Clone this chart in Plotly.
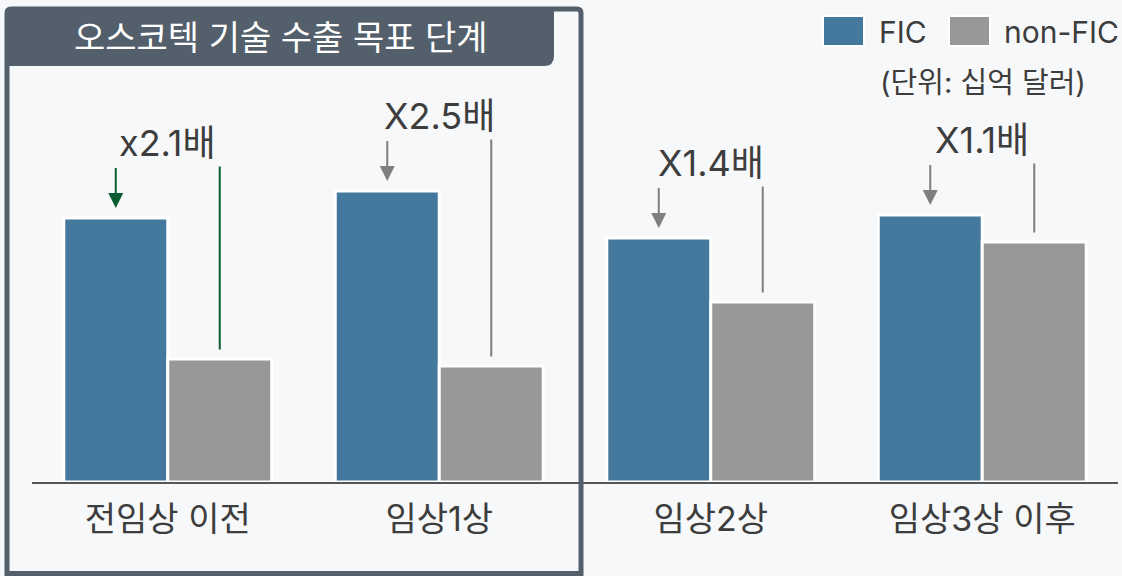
import plotly.graph_objects as go

# Deal values (billion USD) by development stage
stages = ["전임상 이전", "임상1상", "임상2상", "임상3상 이후"]
fic_values = [2.64, 2.91, 2.44, 2.67]
non_fic_values = [1.23, 1.16, 1.80, 2.40]
ratio_labels = ["x2.1배", "X2.5배", "X1.4배", "X1.1배"]
marker_colors = ["#0b5c30", "#7f7f7f", "#7f7f7f", "#7f7f7f"]

FIC_COLOR = "#45789d"
NON_COLOR = "#989898"
BG = "#f7f8fa"
TEXT = "#3d3d3d"
FRAME = "#535f6b"
FONT = "Inter, Noto Sans CJK KR"

W, H = 1122, 576
ML, MR, MT, MB = 32, 4, 82, 94
BARGAP = 0.234
OFF = (1 - BARGAP) / 4  # centre offset of each bar within its group


def px_x(p):
    return (p - ML) / (W - ML - MR)


def px_y(p):
    return (H - MB - p) / (H - MT - MB)


fig = go.Figure()
fig.add_trace(go.Bar(name="FIC", x=stages, y=fic_values,
                     marker=dict(color=FIC_COLOR, line=dict(color="white", width=3))))
fig.add_trace(go.Bar(name="non-FIC", x=stages, y=non_fic_values,
                     marker=dict(color=NON_COLOR, line=dict(color="white", width=3))))

annotations = []
shapes = []
for i, (f, n, lab, c) in enumerate(zip(fic_values, non_fic_values, ratio_labels, marker_colors)):
    # ratio label above the pair
    annotations.append(dict(x=i, y=f + 0.75, xref="x", yref="y", text=lab, showarrow=False,
                            xanchor="center", yanchor="middle",
                            font=dict(family=FONT, size=36, color=TEXT)))
    # arrow pointing down at the FIC bar
    annotations.append(dict(x=i - OFF, y=f + 0.10, ax=i - OFF, ay=f + 0.515,
                            xref="x", yref="y", axref="x", ayref="y", text="",
                            showarrow=True, arrowhead=2, arrowsize=1.5, arrowwidth=2,
                            arrowcolor=c))
    # plain line down to the non-FIC bar
    shapes.append(dict(type="line", xref="x", yref="y", x0=i + OFF, x1=i + OFF,
                       y0=f + 0.515, y1=n + 0.095, line=dict(color=c, width=2)))

# frame around the stages that are the licensing target
bx0, by0, bx1, by1, r = 7, 9, 581, 573.5, 4
frame_path = (f"M {px_x(bx0)},{px_y(by0 + r)} Q {px_x(bx0)},{px_y(by0)} {px_x(bx0 + r)},{px_y(by0)} "
              f"L {px_x(bx1 - r)},{px_y(by0)} Q {px_x(bx1)},{px_y(by0)} {px_x(bx1)},{px_y(by0 + r)} "
              f"L {px_x(bx1)},{px_y(by1)} L {px_x(bx0)},{px_y(by1)} Z")
shapes.append(dict(type="path", xref="paper", yref="paper", path=frame_path,
                   line=dict(color=FRAME, width=5), layer="above"))

tx0, ty0, tx1, ty1, tr = 7, 9, 554, 66, 10
tab_path = (f"M {px_x(tx0)},{px_y(ty0)} L {px_x(tx1)},{px_y(ty0)} L {px_x(tx1)},{px_y(ty1 - tr)} "
            f"Q {px_x(tx1)},{px_y(ty1)} {px_x(tx1 - tr)},{px_y(ty1)} L {px_x(tx0)},{px_y(ty1)} Z")
shapes.append(dict(type="path", xref="paper", yref="paper", path=tab_path,
                   fillcolor=FRAME, line=dict(width=0), layer="above"))
annotations.append(dict(x=px_x(281), y=px_y(38), xref="paper", yref="paper",
                        xanchor="center", yanchor="middle",
                        text="오스코텍 기술 수출 목표 단계", showarrow=False,
                        font=dict(family=FONT, size=34, color="white")))

# legend swatches
for (x0, x1), name, col, tx in [((823, 864), "FIC", FIC_COLOR, 877),
                                 ((949, 990), "non-FIC", NON_COLOR, 1002)]:
    shapes.append(dict(type="rect", xref="paper", yref="paper",
                       x0=px_x(x0), x1=px_x(x1), y0=px_y(16), y1=px_y(46),
                       fillcolor=col, line=dict(color="white", width=2)))
    annotations.append(dict(x=px_x(tx), y=px_y(32), xref="paper", yref="paper", text=name,
                            xanchor="left", yanchor="middle", showarrow=False,
                            font=dict(family=FONT, size=30, color=TEXT)))
annotations.append(dict(x=px_x(983), y=px_y(82), xref="paper", yref="paper",
                        xanchor="center", yanchor="middle",
                        text="(단위: 십억 달러)", showarrow=False,
                        font=dict(family=FONT, size=29, color=TEXT)))

fig.update_layout(
    width=W, height=H,
    margin=dict(l=ML, r=MR, t=MT, b=MB),
    paper_bgcolor=BG, plot_bgcolor=BG,
    barmode="group", bargap=BARGAP, bargroupgap=0,
    showlegend=False,
    annotations=annotations, shapes=shapes,
    font=dict(family=FONT, color=TEXT),
    xaxis=dict(showline=True, linecolor="#555555", linewidth=2, ticks="",
               tickfont=dict(family=FONT, size=34, color=TEXT), showgrid=False,
               ticklabelstandoff=6, range=[-0.5, 3.5]),
    yaxis=dict(range=[0, 4], visible=False, showgrid=False),
)

fig.write_html("out.html")
